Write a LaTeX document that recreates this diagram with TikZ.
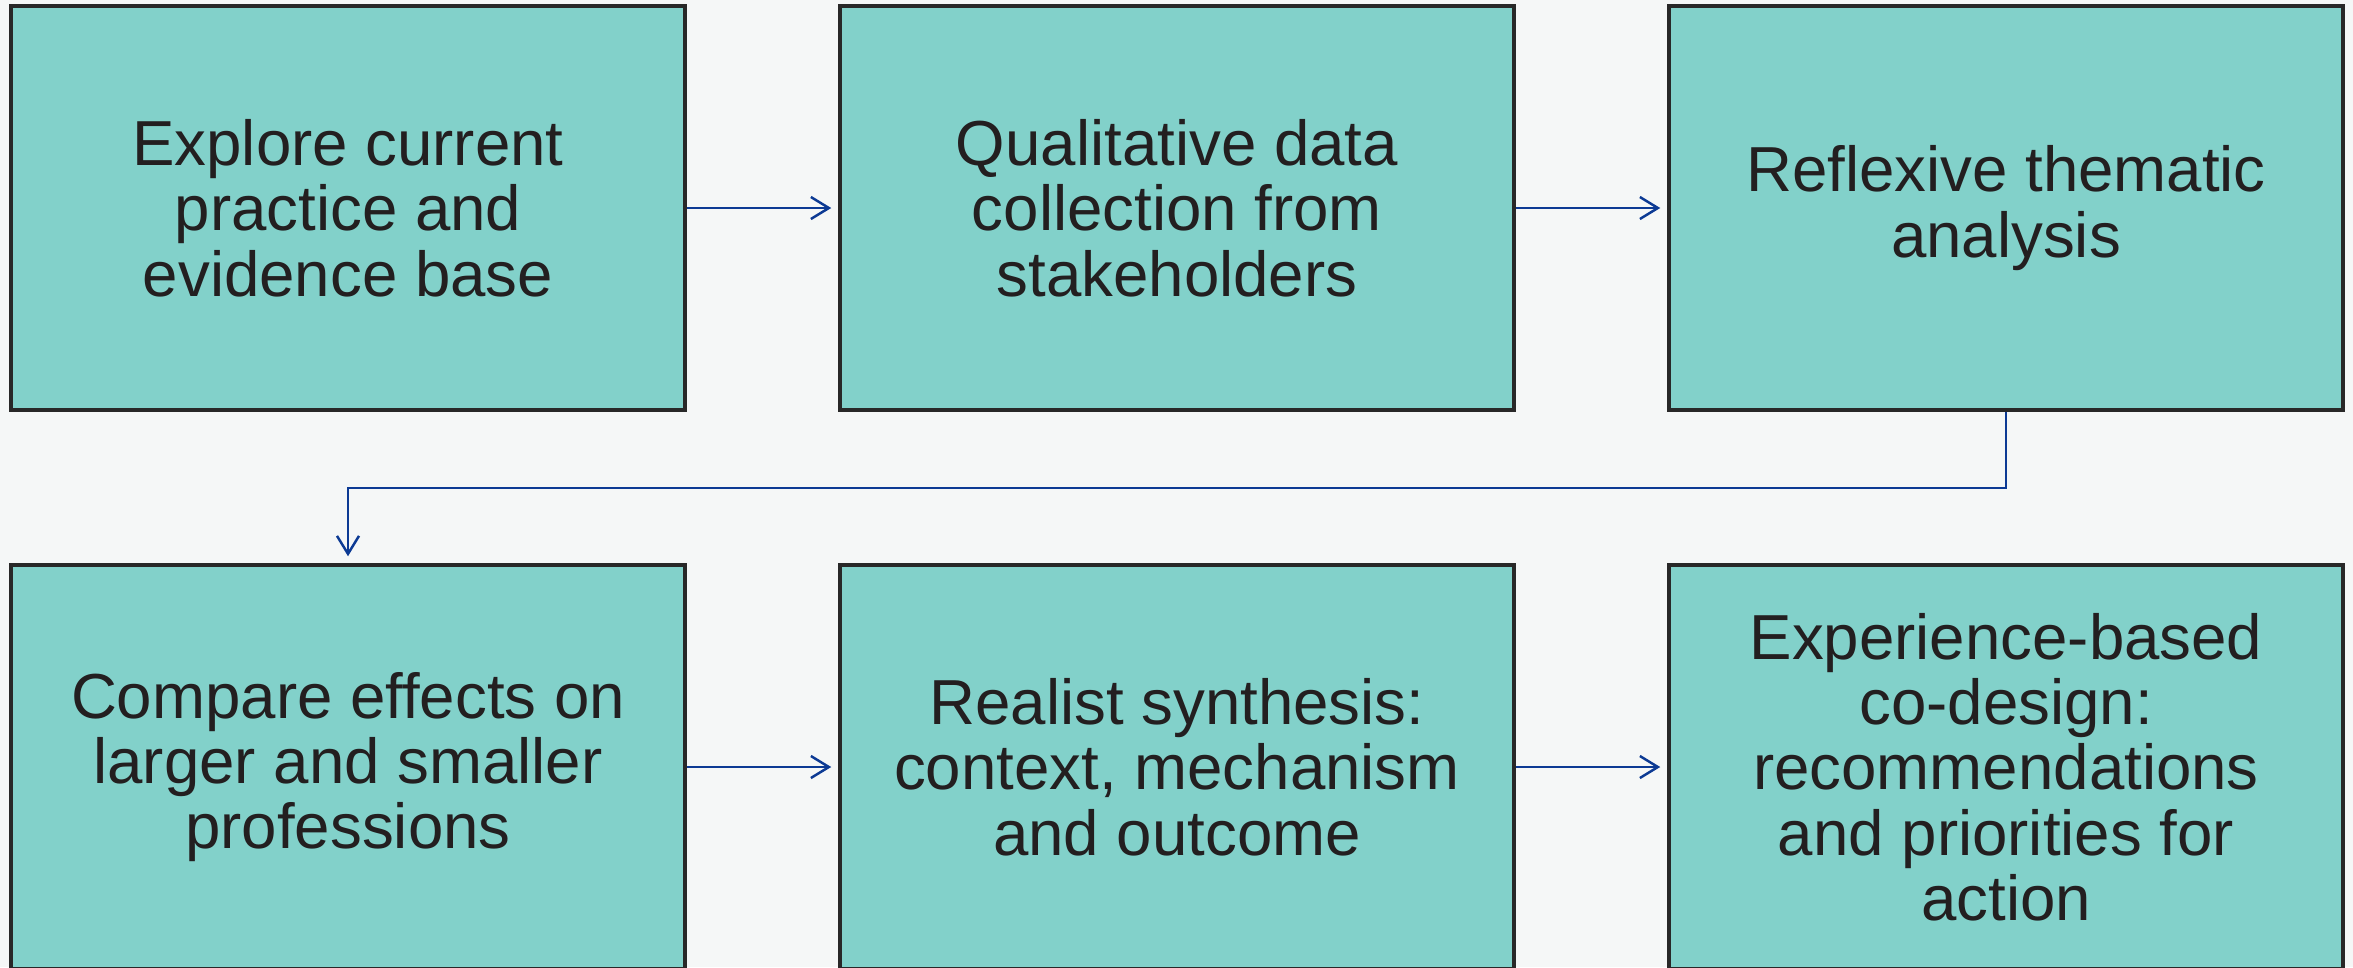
\documentclass[tikz,border=0pt]{standalone}
\usepackage{fontspec}
\setmainfont{Liberation Sans}
\usetikzlibrary{arrows.meta}
\definecolor{pagebg}{RGB}{245,247,247}
\definecolor{boxfill}{RGB}{130,209,202}
\definecolor{boxline}{RGB}{40,40,40}
\definecolor{textcol}{RGB}{35,31,32}
\definecolor{flow}{RGB}{12,58,148}
\tikzset{
  stage/.style={draw=boxline, line width=1pt, fill=boxfill, rectangle,
    minimum width=6.74cm, minimum height=4.04cm, inner sep=0pt,
    align=center, text=textcol, font=\fontsize{18.1}{18.6}\selectfont},
  flowarrow/.style={draw=flow, line width=0.7pt,
    -{Straight Barb[length=1.8mm,width=2.2mm]}, shorten >=0.07cm}
}
\begin{document}
\begin{tikzpicture}
\useasboundingbox (0,0) rectangle (23.53,-9.67);
\fill[pagebg] (0,0) rectangle (23.53,-9.67);
\clip (0,0) rectangle (23.53,-9.67);
% top row
\node[stage] (explore) at (3.48,-2.08) {Explore current\\practice and\\evidence base};
\node[stage] (collect) at (11.77,-2.08) {Qualitative data\\collection from\\stakeholders};
\node[stage] (analyse) at (20.06,-2.08) {Reflexive thematic\\analysis};
% bottom row
\node[stage] (compare) at (3.48,-7.67) {Compare effects on\\larger and smaller\\professions};
\node[stage] (realist) at (11.77,-7.67) {Realist synthesis:\\context, mechanism\\and outcome};
\node[stage] (codesign) at (20.06,-7.67) {Experience-based\\co-design:\\recommendations\\and priorities for\\action};
% connectors
\draw[flowarrow] (explore) -- (collect);
\draw[flowarrow] (collect) -- (analyse);
\draw[flowarrow] (analyse.south) |- (3.48,-4.88) -- (compare.north);
\draw[flowarrow] (compare) -- (realist);
\draw[flowarrow] (realist) -- (codesign);
\end{tikzpicture}
\end{document}
